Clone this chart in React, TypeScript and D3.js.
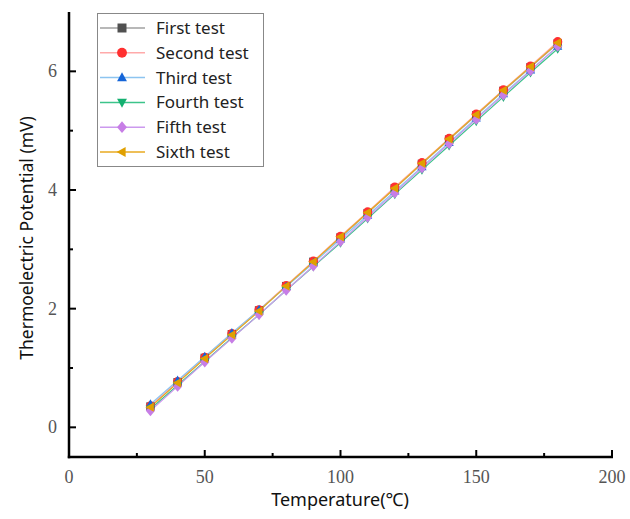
import React, { useRef, useEffect } from 'react';
import * as d3 from 'd3';

const temps = [30, 40, 50, 60, 70, 80, 90, 100, 110, 120, 130, 140, 150, 160, 170, 180];
const firstTest = [0.35, 0.76, 1.17, 1.57, 1.97, 2.38, 2.79, 3.20, 3.61, 4.03, 4.44, 4.85, 5.26, 5.67, 6.07, 6.47];
const secondTest = [0.36, 0.77, 1.18, 1.58, 1.98, 2.39, 2.80, 3.22, 3.63, 4.05, 4.46, 4.87, 5.28, 5.69, 6.09, 6.50];
const thirdTest = [0.39, 0.79, 1.19, 1.59, 1.98, 2.37, 2.77, 3.17, 3.57, 3.98, 4.39, 4.80, 5.21, 5.62, 6.02, 6.42];
const fourthTest = [0.31, 0.71, 1.11, 1.51, 1.90, 2.31, 2.71, 3.11, 3.52, 3.93, 4.34, 4.75, 5.16, 5.57, 5.98, 6.38];
const fifthTest = [0.28, 0.69, 1.10, 1.50, 1.90, 2.31, 2.72, 3.13, 3.54, 3.95, 4.37, 4.78, 5.19, 5.60, 6.01, 6.42];
const sixthTest = [0.34, 0.75, 1.16, 1.56, 1.96, 2.38, 2.79, 3.21, 3.62, 4.03, 4.45, 4.86, 5.27, 5.68, 6.08, 6.48];

const seriesNames = ['First test', 'Second test', 'Third test', 'Fourth test', 'Fifth test', 'Sixth test'];
const xTicks = [0, 50, 100, 150, 200];
const yTicks = [0, 2, 4, 6];

export default function App() {
  const svgRef = useRef<SVGSVGElement>(null);

  useEffect(() => {
    const w = 630;
    const h = 519;
    const svg = d3.select(svgRef.current).attr('width', w).attr('height', h);
    svg.selectAll('*').remove();

    const x = d3.scaleLinear().domain([0, 200]).range([69, 612]);
    const y = d3.scaleLinear().domain([-0.5, 7]).range([457, 12]);

    const series = [
      { name: seriesNames[0], values: firstTest, marker: '#505050', line: '#a0a0a0', shape: 'square' },
      { name: seriesNames[1], values: secondTest, marker: '#ff3030', line: '#ffaaaa', shape: 'circle' },
      { name: seriesNames[2], values: thirdTest, marker: '#1565d8', line: '#8cc4f0', shape: 'up' },
      { name: seriesNames[3], values: fourthTest, marker: '#14b070', line: '#3cc48a', shape: 'down' },
      { name: seriesNames[4], values: fifthTest, marker: '#c77ee6', line: '#cc99ee', shape: 'diamond' },
      { name: seriesNames[5], values: sixthTest, marker: '#e0a000', line: '#e8aa20', shape: 'left' },
    ];

    const markerPath = (shape: string, s: number) => {
      switch (shape) {
        case 'square': return `M${-s},${-s}H${s}V${s}H${-s}Z`;
        case 'circle': return d3.symbol(d3.symbolCircle, Math.PI * s * s * 1.2)()!;
        case 'up': return `M0,${-s * 1.2}L${s * 1.1},${s * 0.8}L${-s * 1.1},${s * 0.8}Z`;
        case 'down': return `M0,${s * 1.2}L${s * 1.1},${-s * 0.8}L${-s * 1.1},${-s * 0.8}Z`;
        case 'diamond': return `M0,${-s * 1.3}L${s * 1.1},0L0,${s * 1.3}L${-s * 1.1},0Z`;
        default: return `M${-s * 1.2},0L${s * 0.8},${-s * 1.1}L${s * 0.8},${s * 1.1}Z`;
      }
    };

    const line = d3.line<number>().x((d, i) => x(temps[i])).y(d => y(d));

    series.forEach(s => {
      svg.append('path')
        .attr('d', line(s.values))
        .attr('fill', 'none')
        .attr('stroke', s.line)
        .attr('stroke-width', 1.2);
    });
    series.forEach(s => {
      svg.append('g').selectAll('path')
        .data(s.values)
        .join('path')
        .attr('transform', (d, i) => `translate(${x(temps[i])},${y(d)})`)
        .attr('d', markerPath(s.shape, 4.2))
        .attr('fill', s.marker);
    });

    // axes
    const axisG = svg.append('g');
    axisG.append('line').attr('x1', 69).attr('x2', 69).attr('y1', 12).attr('y2', 458.2)
      .attr('stroke', '#000').attr('stroke-width', 2.5);
    axisG.append('line').attr('x1', 67.8).attr('x2', 613).attr('y1', 457).attr('y2', 457)
      .attr('stroke', '#000').attr('stroke-width', 2.5);

    d3.range(0, 201, 25).forEach(v => {
      const major = v % 50 === 0;
      axisG.append('line').attr('x1', x(v)).attr('x2', x(v))
        .attr('y1', 457).attr('y2', 457 - (major ? 7 : 4))
        .attr('stroke', '#000').attr('stroke-width', 2);
    });
    d3.range(0, 7, 1).forEach(v => {
      const major = v % 2 === 0;
      axisG.append('line').attr('x1', 69).attr('x2', 69 + (major ? 7 : 4))
        .attr('y1', y(v)).attr('y2', y(v))
        .attr('stroke', '#000').attr('stroke-width', 2);
    });

    axisG.selectAll('text.xt').data(xTicks).join('text')
      .attr('x', d => x(d)).attr('y', 483)
      .attr('text-anchor', 'middle')
      .attr('font-family', '"Liberation Serif", serif')
      .attr('font-size', 18).attr('fill', '#555')
      .text(d => d);
    axisG.selectAll('text.yt').data(yTicks).join('text')
      .attr('x', 57).attr('y', d => y(d) + 6)
      .attr('text-anchor', 'end')
      .attr('font-family', '"Liberation Serif", serif')
      .attr('font-size', 18).attr('fill', '#555')
      .text(d => d);

    svg.append('text')
      .attr('x', 340).attr('y', 506)
      .attr('text-anchor', 'middle')
      .attr('font-family', '"Noto Sans", sans-serif')
      .attr('font-size', 18).attr('fill', '#111')
      .text('Temperature(℃)');
    svg.append('text')
      .attr('transform', 'translate(33,238) rotate(-90)')
      .attr('text-anchor', 'middle')
      .attr('font-family', '"Noto Sans", sans-serif')
      .attr('font-size', 17.5).attr('fill', '#111')
      .text('Thermoelectric Potential (mV)');

    // legend
    const lg = svg.append('g');
    lg.append('rect').attr('x', 97.5).attr('y', 13.5).attr('width', 166).attr('height', 153)
      .attr('fill', '#fff').attr('stroke', '#888').attr('stroke-width', 1);
    series.forEach((s, i) => {
      const cy = 28 + i * 24.8;
      lg.append('line').attr('x1', 100).attr('x2', 145).attr('y1', cy).attr('y2', cy)
        .attr('stroke', s.line).attr('stroke-width', 1.5);
      lg.append('path').attr('transform', `translate(122,${cy})`)
        .attr('d', markerPath(s.shape, 4.5)).attr('fill', s.marker);
      lg.append('text').attr('x', 156).attr('y', cy + 6)
        .attr('font-family', '"Noto Sans", sans-serif')
        .attr('font-size', 17).attr('fill', '#222')
        .text(s.name);
    });
  }, []);

  return (
    <div style={{ position: 'absolute', left: 0, top: 0 }}>
      <svg ref={svgRef}></svg>
    </div>
  );
}
